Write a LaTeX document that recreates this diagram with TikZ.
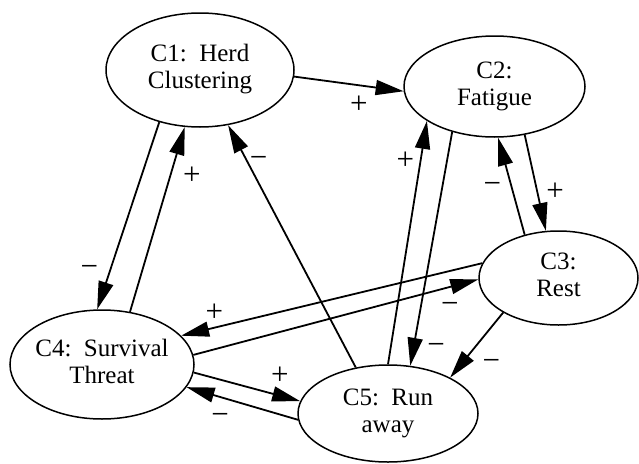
\documentclass[tikz,border=0pt]{standalone}
\usepackage{fontspec}
\setmainfont{Liberation Serif}
\usetikzlibrary{shapes.geometric,arrows.meta,positioning}
\newcommand{\twolines}[1]{\makebox[0pt]{\begin{tabular}{@{}c@{}}#1\end{tabular}}}

\begin{document}
\begin{tikzpicture}[x=1pt,y=-1pt,font=\fontsize{25}{27}\selectfont,
    >={Triangle[length=28pt,width=15pt]},line width=1.8pt,
    sgn/.style={font=\fontsize{31}{31}\selectfont,inner sep=1pt,text height=16pt,text depth=0pt,yshift=-4pt}]
\useasboundingbox (0,0) rectangle (639,463);
\begin{scope}[every node/.style={ellipse,draw,line width=1.5pt,inner sep=0pt}]
    \node[minimum width=188pt,minimum height=114pt] (c1) at (200,70){\twolines{C1:\ \ Herd\\Clustering}};
    \node[minimum width=181pt,minimum height=101pt] (c2) at (494.5,86.5){\twolines{C2:\\Fatigue}};
    \node[minimum width=159pt,minimum height=94pt] (c3) at (558.5,278){\twolines{C3:\\Rest}};
    \node[minimum width=184pt,minimum height=109pt] (c4) at (102,364.5){\twolines{C4:\ \ Survival\\Threat}};
    \node[minimum width=180pt,minimum height=97pt] (c5) at (388,413.5){\twolines{C5:\ \ Run\\away}};
\end{scope}

    \path [->] (c1.-4) edge node[sgn, pos=.59, below=6pt]{+} (c2.183);
    \path [->] (c1.232) edge node[sgn, pos=.76, left=12pt]{−} (c4.95);
    \path [->] (c4.62) edge node[sgn, pos=.755, right=10pt]{+} (c1.255.5);
    \path [->] (c5.125) edge node[sgn, pos=.875, right=4pt]{−} (c1.297);

    \path [->] (c5.90) edge node[sgn, pos=.85, left=5pt]{+} (c2.207);
    \path [->] (c2.227.5) edge node[sgn, pos=.9, right=11pt]{−} (c5.65);
    \path [->] (c3.128.7) edge node[sgn, pos=.55, left=7pt]{−} (c2.274);
    \path [->] (c2.302) edge node[sgn, pos=.56, right=8pt]{+} (c3.105);

    \path [->] (c3.169) edge node[sgn, pos=.89, above=8pt]{+} (c4.20.4);
    \path [->] (c4.6.3) edge node[sgn, pos=.9, below=5pt]{−} (c3.181.4);
    \path [->] (c3.212) edge node[sgn, pos=.5, below right=3.5pt and 4pt]{−} (c5.30);

    \path [->] (c4.355.7) edge node[sgn, pos=.81, above=13pt]{+} (c5.172.9);
    \path [->] (c5.184.5) edge node[sgn, pos=.7, below=6pt]{−} (c4.345.7);

\end{tikzpicture}
\end{document}
